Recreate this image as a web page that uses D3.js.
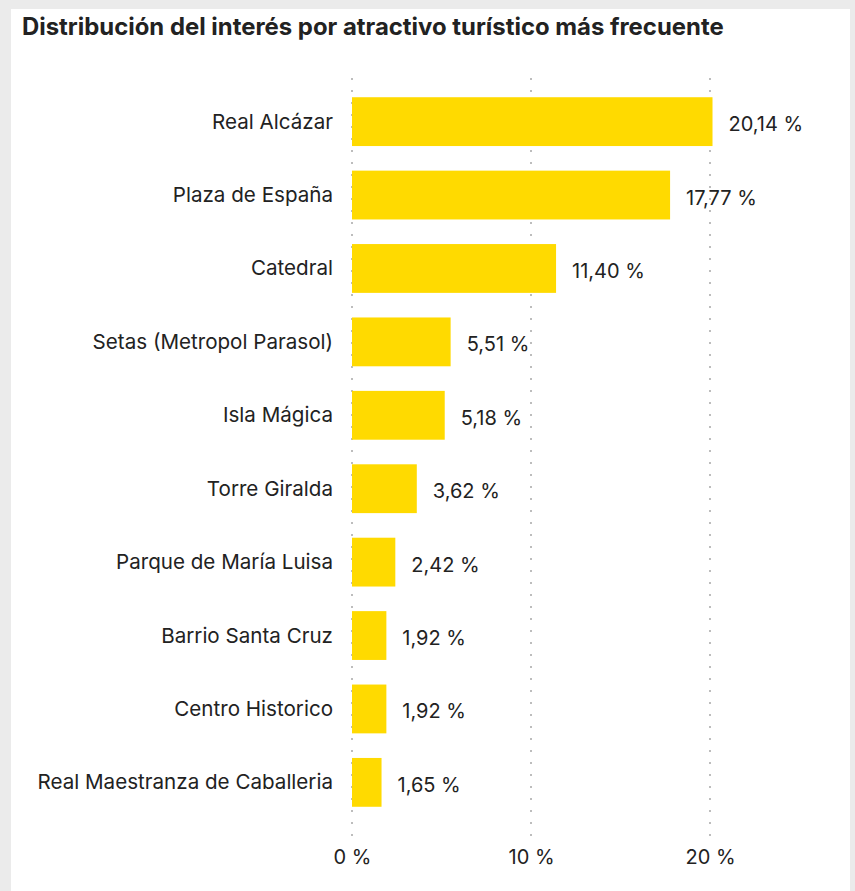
<!DOCTYPE html>
<html>
<head>
<meta charset="utf-8">
<script src="https://cdn.jsdelivr.net/npm/d3@7"></script>
<style>
  html, body { margin: 0; padding: 0; background: #ebebeb; }
  svg { display: block; }
</style>
</head>
<body>
<svg id="chart" width="855" height="891"></svg>
<script>
// Attractions and share of interest (%)
const categories = [
  "Real Alcázar",
  "Plaza de España",
  "Catedral",
  "Setas (Metropol Parasol)",
  "Isla Mágica",
  "Torre Giralda",
  "Parque de María Luisa",
  "Barrio Santa Cruz",
  "Centro Historico",
  "Real Maestranza de Caballeria"
];
const values = [20.14, 17.77, 11.40, 5.51, 5.18, 3.62, 2.42, 1.92, 1.92, 1.65];
const tickValues = [0, 10, 20];
const title = "Distribución del interés por atractivo turístico más frecuente";

const svg = d3.select("#chart");
const font = "Inter, 'Noto Sans', sans-serif";

// white panel
svg.append("rect")
  .attr("x", 11).attr("y", 9)
  .attr("width", 839).attr("height", 900)
  .attr("fill", "#ffffff");

svg.append("text")
  .attr("x", 22).attr("y", 35)
  .attr("font-family", font)
  .attr("font-weight", 700)
  .attr("font-size", 23.9)
  .attr("fill", "#222")
  .text(title);

const x = d3.scaleLinear().domain([0, 20]).range([352, 710]);
const y = d3.scaleBand().domain(categories).range([73, 831]).paddingInner(0.335).paddingOuter(0.33);

// dotted vertical gridlines
svg.append("g")
  .selectAll("line")
  .data(tickValues)
  .join("line")
  .attr("x1", d => x(d)).attr("x2", d => x(d))
  .attr("y1", 78).attr("y2", 838)
  .attr("stroke", "#bdbdbd")
  .attr("stroke-width", 2)
  .attr("stroke-dasharray", "2,10");

// bars
svg.append("g")
  .selectAll("rect")
  .data(values)
  .join("rect")
  .attr("x", x(0))
  .attr("y", (d, i) => y(categories[i]))
  .attr("width", d => x(d) - x(0))
  .attr("height", y.bandwidth())
  .attr("fill", "#ffda00");

const fmt = v => d3.format(".2f")(v).replace(".", ",") + " %";

// value labels
svg.append("g")
  .selectAll("text")
  .data(values)
  .join("text")
  .attr("x", d => x(d) + 16)
  .attr("y", (d, i) => y(categories[i]) + y.bandwidth() / 2 + 9.5)
  .attr("font-family", font)
  .attr("font-size", 20)
  .attr("fill", "#222")
  .text(fmt);

// category labels
svg.append("g")
  .selectAll("text")
  .data(categories)
  .join("text")
  .attr("x", 333)
  .attr("y", d => y(d) + y.bandwidth() / 2 + 7)
  .attr("text-anchor", "end")
  .attr("font-family", font)
  .attr("font-size", 20.6)
  .attr("fill", "#222")
  .text(d => d);

// x axis tick labels
const axis = d3.axisBottom(x).tickValues(tickValues).tickSize(0).tickPadding(0)
  .tickFormat(d => d + " %");
const gAxis = svg.append("g").attr("transform", "translate(0,864)").call(axis);
gAxis.select(".domain").remove();
gAxis.selectAll("text")
  .attr("font-family", font)
  .attr("font-size", 20)
  .attr("fill", "#222")
  .attr("dy", 0)
  .attr("y", 0);
</script>
</body>
</html>
